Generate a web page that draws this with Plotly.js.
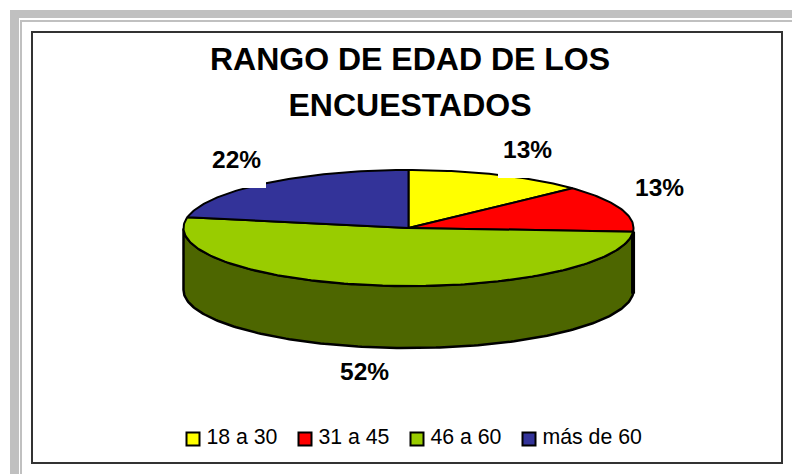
<!DOCTYPE html>
<html>
<head>
<meta charset="utf-8">
<script src="https://cdn.plot.ly/plotly-3.0.1.min.js"></script>
<style>html,body{margin:0;padding:0;background:#fff;overflow:hidden}#chart{width:792px;height:474px}</style>
</head>
<body>
<div id="chart"></div>
<script>
const categories = ['18 a 30', '31 a 45', '46 a 60', 'más de 60'];
const shares = [13, 13, 52, 22];
const sliceLabels = ['13%', '13%', '52%', '22%'];
const sliceColors = ['#FFFF00', '#FF0000', '#99CC00', '#333399'];
const wallColor = '#4D6600';
const titleLines = ['RANGO DE EDAD DE LOS', 'ENCUESTADOS'];

// pie projection, in axis units
const cx = 408.5, cy = 228, rx = 225, ry = 58, depth = 62;
const FONT = '"Liberation Sans", Arial, sans-serif';
const px = d => cx + rx * Math.sin(d * Math.PI / 180);
const py = (d, off) => cy - ry * Math.cos(d * Math.PI / 180) + (off || 0);
const total = shares.reduce((a, b) => a + b, 0);

const traces = [];
let start = 0;
const bounds = shares.map(v => { const s = start; start += v / total * 360; return [s, start]; });

// side wall: the front of the green slice, seen from 3/4 above
const wallFrom = bounds[1][1], wallTo = 270;
const wx = [], wy = [];
for (let d = wallFrom; d <= wallTo; d += 1) { wx.push(px(d)); wy.push(py(d)); }
for (let d = wallTo; d >= wallFrom; d -= 1) { wx.push(px(d)); wy.push(py(d, depth)); }
wx.push(wx[0]); wy.push(wy[0]);
traces.push({x: wx, y: wy, mode: 'lines', fill: 'toself', fillcolor: wallColor,
  line: {color: '#000', width: 2.5}, hoverinfo: 'skip', showlegend: false});
// heavier right-hand edge of the wall
traces.push({x: [px(wallFrom), px(wallFrom)], y: [py(wallFrom), py(wallFrom, depth)], mode: 'lines',
  line: {color: '#000', width: 4}, hoverinfo: 'skip', showlegend: false});

// top faces
categories.forEach((name, i) => {
  const [a, b] = bounds[i];
  const xs = [cx], ys = [cy];
  for (let d = a; d < b; d += 1) { xs.push(px(d)); ys.push(py(d)); }
  xs.push(px(b), cx); ys.push(py(b), cy);
  traces.push({x: xs, y: ys, mode: 'lines', fill: 'toself', fillcolor: sliceColors[i],
    line: {color: '#000', width: 2}, name: name, hoverinfo: 'name', showlegend: false});
});

// key
const keyX = [193, 305, 417, 529], keyY = 439;
categories.forEach((name, i) => {
  traces.push({x: [keyX[i]], y: [keyY], mode: 'markers+text', text: ['\u2009' + name], textposition: 'middle right',
    textfont: {family: FONT, size: 21.3, color: '#000'},
    marker: {symbol: 'square', size: 13, color: sliceColors[i], line: {color: '#000', width: 2}},
    name: name, hoverinfo: 'name', showlegend: false, cliponaxis: false});
});

const labelPos = [[527, 149], [659, 187], [364.5, 371], [236.5, 159]];
const annotations = sliceLabels.map((t, i) => ({
  x: labelPos[i][0], y: labelPos[i][1], xref: 'x', yref: 'y', text: '<b>' + t + '</b>',
  showarrow: false, font: {family: FONT, size: 24.5, color: '#000'}, xanchor: 'center', yanchor: 'middle'
}));

const rect = (x0, y0, x1, y1, fill, layer) => ({type: 'rect', xref: 'x', yref: 'y', x0, y0, x1, y1,
  fillcolor: fill, line: {width: 0}, layer: layer});
const shapes = [
  rect(10, 10, 792, 18, '#C0C0C0', 'below'),
  rect(10, 10, 19, 474, '#C0C0C0', 'below'),
  rect(20, 20, 792, 22, '#C0C0C0', 'below'),
  rect(20, 20, 22, 474, '#C0C0C0', 'below'),
  {type: 'rect', xref: 'x', yref: 'y', x0: 32, y0: 32, x1: 782, y1: 463, fillcolor: 'rgba(0,0,0,0)',
   line: {color: '#333333', width: 2}, layer: 'below'},
  rect(498, 158, 556, 178, '#FFFFFF', 'above'),
  rect(210, 165, 266, 188, '#FFFFFF', 'above')
];

const layout = {
  width: 792, height: 474,
  margin: {l: 0, r: 0, t: 0, b: 0},
  paper_bgcolor: '#fff', plot_bgcolor: '#fff',
  showlegend: false,
  title: {text: titleLines.map(t => '<span style="font-size:32px"><b>' + t + '</b></span>').join('<br>'),
    font: {family: FONT, size: 35.4, color: '#000'},
    x: 410 / 792, xanchor: 'center', y: 1 - 70 / 474, yanchor: 'middle'},
  xaxis: {range: [0, 792], visible: false, fixedrange: true},
  yaxis: {range: [474, 0], visible: false, fixedrange: true},
  annotations, shapes
};
Plotly.newPlot('chart', traces, layout, {displayModeBar: false});
</script>
</body>
</html>
